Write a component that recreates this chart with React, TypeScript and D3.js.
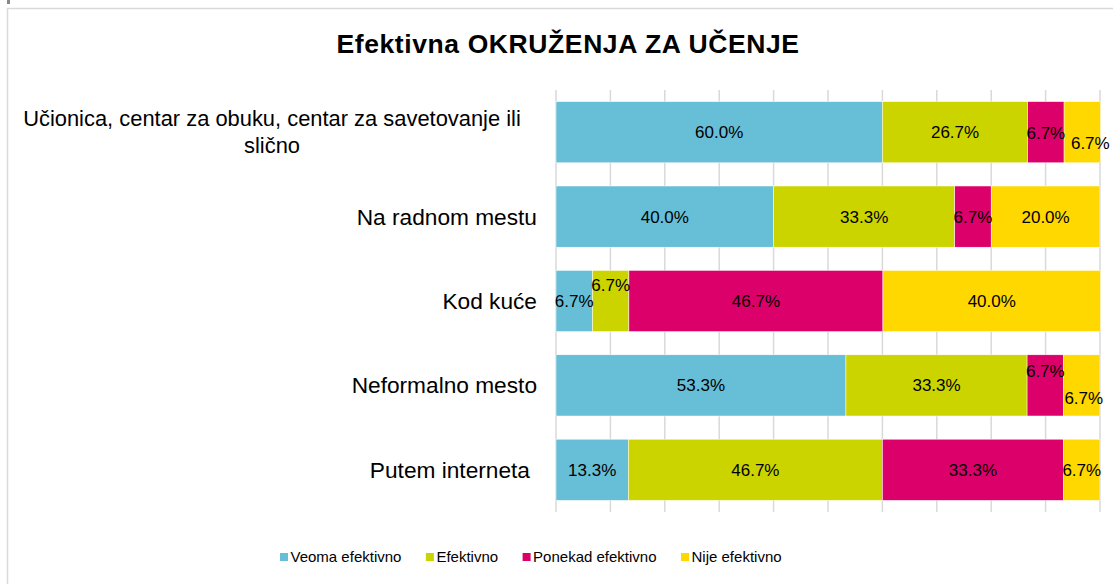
import React from "react";
import * as d3 from "d3";

const title = "Efektivna OKRUŽENJA ZA UČENJE";
const categories = [
  "Učionica, centar za obuku, centar za savetovanje ili slično",
  "Na radnom mestu",
  "Kod kuće",
  "Neformalno mesto",
  "Putem interneta",
];
const seriesNames = ["Veoma efektivno", "Efektivno", "Ponekad efektivno", "Nije efektivno"];
const veomaEfektivno = [60.0, 40.0, 6.7, 53.3, 13.3];
const efektivno = [26.7, 33.3, 6.7, 33.3, 46.7];
const ponekadEfektivno = [6.7, 6.7, 46.7, 6.7, 33.3];
const nijeEfektivno = [6.7, 20.0, 40.0, 6.7, 6.7];
const colors = ["#67bed7", "#ccd400", "#dc006a", "#ffd800"];
const xTicks = [0, 10, 20, 30, 40, 50, 60, 70, 80, 90, 100];

// label nudges (row, series, dx, dy) mimicking overlap avoidance
const labelNudges: [number, number, number, number][] = [
  [0, 2, 0, 1],
  [0, 3, 8, 11],
  [2, 1, 0, -16],
  [3, 2, 0, -14],
  [3, 3, 2, 13],
];

const W = 1113;
const H = 584;
const FONT = "'Liberation Sans', Arial, sans-serif";

function measure(text: string, font: string) {
  const c = document.createElement("canvas").getContext("2d")!;
  c.font = font;
  return c.measureText(text).width;
}

export default function App() {
  const values = [veomaEfektivno, efektivno, ponekadEfektivno, nijeEfektivno];
  const x = d3.scaleLinear().domain([0, 100]).range([556, 1100]);
  const y = d3.scaleBand<number>().domain(d3.range(categories.length)).range([90, 512]).paddingInner(0.275).paddingOuter(0.1375);

  const rows = categories.map((cat, i) => {
    let acc = 0;
    const segs = values.map((vals, s) => {
      const x0 = acc;
      acc += vals[i];
      return { s, v: vals[i], x0, x1: acc };
    });
    return { cat, i, segs };
  });

  const legendFont = `15px ${FONT}`;
  let lx = 280;
  const legendItems = seriesNames.map((n, s) => {
    const item = { n, s, x: lx };
    lx += 10.5 + measure(n, legendFont) + 24.5;
    return item;
  });

  return (
    <svg width={W} height={H} style={{ position: "absolute", left: 0, top: 0, background: "#fff" }} fontFamily={FONT}>
      <rect x={0} y={0} width={W} height={H} fill="#fff" />
      <rect x={7.5} y={8.5} width={W + 20} height={H + 20} fill="none" stroke="#d9d9d9" strokeWidth={1.5} />
      <rect x={7} y={0} width={3} height={4} fill="#888" />
      <text x={568} y={53} textAnchor="middle" fontSize={26.5} letterSpacing={0.6} fontWeight="bold" fill="#000">{title}</text>

      {xTicks.map((t) => (
        <line key={t} x1={x(t)} x2={x(t)} y1={90} y2={512} stroke="#d9d9d9" strokeWidth={1.5} />
      ))}

      {rows.map((r) => (
        <g key={r.i}>
          {r.segs.map((sg) => (
            <rect key={sg.s} x={x(sg.x0)} y={y(r.i)!} width={x(sg.x1) - x(sg.x0)} height={y.bandwidth()} fill={colors[sg.s]} stroke="#fff" strokeWidth={0.5} />
          ))}
          {r.segs.map((sg) => {
            const nd = labelNudges.find((n) => n[0] === r.i && n[1] === sg.s);
            const dx = nd ? nd[2] : 0;
            const dy = nd ? nd[3] : 0;
            return (
              <text key={"l" + sg.s} x={(x(sg.x0) + x(sg.x1)) / 2 + dx} y={y(r.i)! + y.bandwidth() / 2 + dy} dy="0.35em" textAnchor="middle" fontSize={17} fill="#000">
                {sg.v.toFixed(1) + "%"}
              </text>
            );
          })}
        </g>
      ))}

      {rows.map((r) => {
        const cy = y(r.i)! + y.bandwidth() / 2;
        if (r.i === 0) {
          const words = r.cat.split(" ");
          const l1 = words.slice(0, -1).join(" ");
          const l2 = words[words.length - 1];
          return (
            <text key={"c" + r.i} x={272} textAnchor="middle" fontSize={21.9} fill="#000">
              <tspan x={272} y={cy - 13.5} dy="0.35em">{l1}</tspan>
              <tspan x={272} y={cy + 13.5} dy="0.35em">{l2}</tspan>
            </text>
          );
        }
        return (
          <text key={"c" + r.i} x={r.i === 4 ? 530 : 537} y={cy} dy="0.35em" textAnchor="end" fontSize={22.7} fill="#000">
            {r.cat}
          </text>
        );
      })}

      {legendItems.map((it) => (
        <g key={it.s}>
          <rect x={it.x} y={553} width={8} height={8} fill={colors[it.s]} />
          <text x={it.x + 10.5} y={557} dy="0.35em" fontSize={15} fill="#000">{it.n}</text>
        </g>
      ))}
    </svg>
  );
}
